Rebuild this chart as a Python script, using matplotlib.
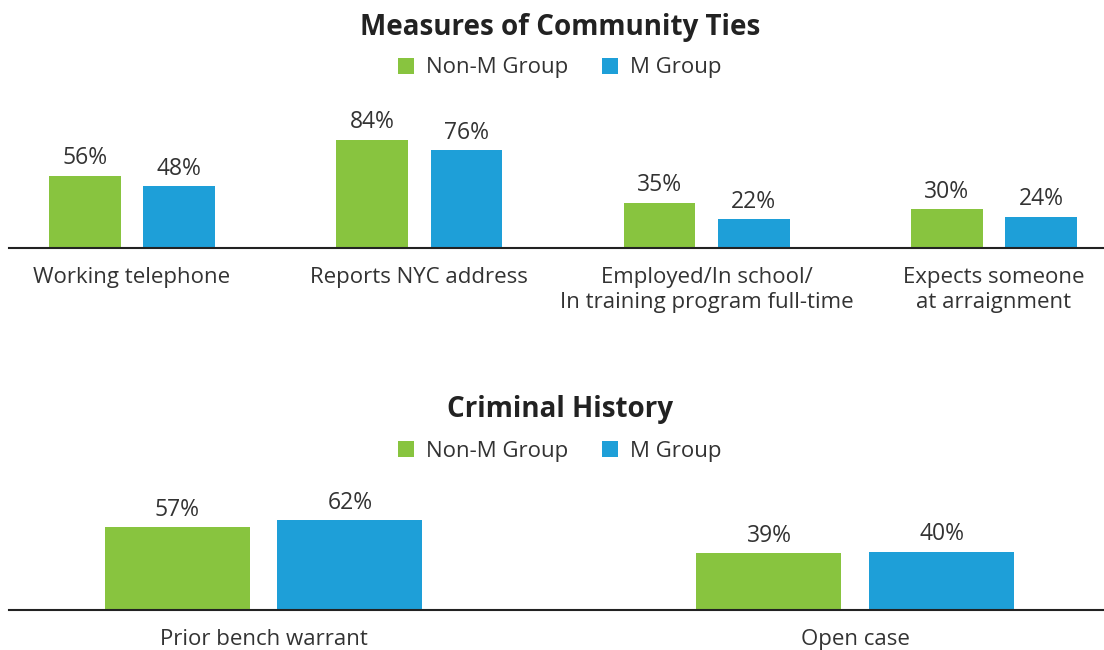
import matplotlib
matplotlib.use("Agg")
from matplotlib import pyplot as plt
import numpy as np

# data
ties_labels = ['Working telephone', 'Reports NYC address',
               'Employed/In school/\nIn training program full-time',
               'Expects someone\nat arraignment']
ties_nonm = [56, 84, 35, 30]
ties_m = [48, 76, 22, 24]

hist_labels = ['Prior bench warrant', 'Open case']
hist_nonm = [57, 39]
hist_m = [62, 40]

series_names = ['Non-M Group', 'M Group']

GREEN = '#88c43f'
BLUE = '#1e9fd8'
TEXT = '#333333'

plt.rcParams['font.family'] = ['Open Sans', 'DejaVu Sans']
plt.rcParams['text.color'] = TEXT

W, H = 1104, 650
fig = plt.figure(figsize=(W / 100, H / 100), dpi=100)


def px_axes(left, base, right, height):
    # pixel box -> figure fraction
    return fig.add_axes([left / W, (H - base) / H, (right - left) / W, height / H])


def draw(ax, labels, a, b, width, offset, xlim, ylim):
    x = np.arange(len(labels))
    bars_a = ax.bar(x - offset, a, width, color=GREEN, label=series_names[0])
    bars_b = ax.bar(x + offset, b, width, color=BLUE, label=series_names[1])
    for bars in (bars_a, bars_b):
        for r in bars:
            ax.annotate(f'{r.get_height():.0f}%',
                        (r.get_x() + r.get_width() / 2, r.get_height()),
                        xytext=(0, 4), textcoords='offset points',
                        ha='center', va='bottom', fontsize=16.5, color=TEXT)
    ax.set_xlim(*xlim)
    ax.set_ylim(*ylim)
    ax.set_xticks(x)
    ax.set_xticklabels(labels, fontsize=16, color=TEXT, linespacing=1.28)
    ax.tick_params(axis='x', length=0, pad=14)
    ax.set_yticks([])
    for s in ['top', 'left', 'right']:
        ax.spines[s].set_visible(False)
    ax.spines['bottom'].set_color('#222222')
    ax.spines['bottom'].set_linewidth(1.5)
    return bars_a, bars_b


# top chart
ax1 = px_axes(9, 247.5, W, 147)
h1 = draw(ax1, ties_labels, ties_nonm, ties_m, 0.25, 0.164,
          (-0.428, 3.383), (0, 147 / 1.28))

# bottom chart
ax2 = px_axes(9, 609.5, W, 120)
h2 = draw(ax2, hist_labels, hist_nonm, hist_m, 0.245, 0.146,
          (-0.43, 1.42), (0, 120 / 1.44))

fig.text(560 / W, 1 - 27 / H, 'Measures of Community Ties', ha='center', va='center',
         fontsize=20, fontweight='bold', color='#222222')
fig.text(560 / W, 1 - 409 / H, 'Criminal History', ha='center', va='center',
         fontsize=20, fontweight='bold', color='#222222')

for hs, yy in ((h1, 68), (h2, 451)):
    fig.legend(hs, series_names, loc='center', bbox_to_anchor=(560 / W, 1 - yy / H),
               ncol=2, frameon=False, fontsize=16, handlelength=0.72, handleheight=0.72,
               handletextpad=0.55, columnspacing=1.5, borderaxespad=0)

fig.savefig('out.png', dpi=100)
